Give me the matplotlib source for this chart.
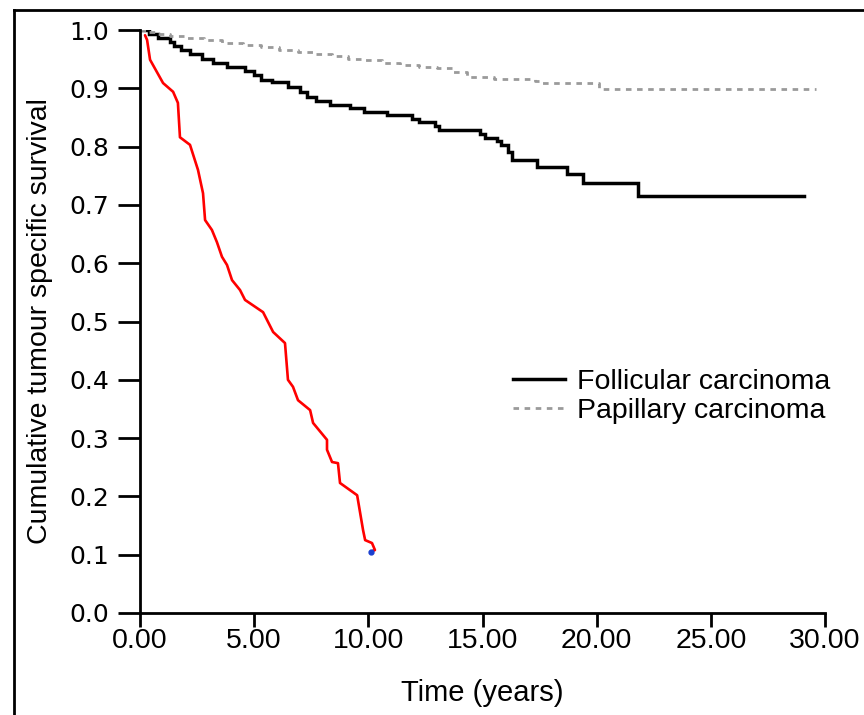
import matplotlib
matplotlib.use("Agg")
import matplotlib.pyplot as plt
from matplotlib.lines import Line2D

# Follicular carcinoma (Kaplan-Meier steps)
foll_t = [0, 0.4, 0.8, 1.3, 1.5, 1.8, 2.2, 2.7, 3.2, 3.8, 4.6, 5.0, 5.3, 5.8, 6.5,
          7.0, 7.3, 7.7, 8.3, 9.2, 9.8, 10.8, 11.9, 12.2, 12.9, 13.1, 14.9, 15.1,
          15.65, 15.8, 16.1, 16.3, 17.4, 18.7, 19.4, 21.8, 29.1]
foll_s = [1.0, 0.993, 0.986, 0.98, 0.972, 0.965, 0.958, 0.95, 0.944, 0.937, 0.93,
          0.923, 0.915, 0.91, 0.902, 0.893, 0.885, 0.878, 0.872, 0.866, 0.86, 0.854,
          0.848, 0.842, 0.835, 0.828, 0.821, 0.815, 0.809, 0.803, 0.79, 0.777,
          0.765, 0.753, 0.738, 0.716, 0.716]

# Papillary carcinoma
pap_t = [0, 0.4, 0.8, 1.3, 2.0, 2.8, 3.6, 4.5, 5.3, 6.1, 6.9, 7.6, 8.4, 9.1, 9.8,
         10.6, 11.4, 12.2, 13.0, 13.7, 14.3, 15.5, 17.3, 17.5, 20.1, 29.6]
pap_s = [1.0, 0.997, 0.993, 0.989, 0.986, 0.982, 0.978, 0.974, 0.97, 0.966, 0.962,
         0.958, 0.955, 0.951, 0.948, 0.944, 0.94, 0.937, 0.934, 0.928, 0.919,
         0.916, 0.913, 0.909, 0.899, 0.899]

# Hand-drawn red curve
red_t = [0.22, 0.31, 0.44, 1.01, 1.45, 1.66, 1.75, 2.19, 2.54, 2.76, 2.85, 3.15,
         3.37, 3.59, 3.81, 4.03, 4.38, 4.60, 5.39, 5.83, 6.35, 6.48, 6.70, 6.92,
         7.45, 7.58, 8.19, 8.19, 8.41, 8.67, 8.76, 9.51, 9.77, 9.86, 10.16, 10.29,
         10.16]
red_s = [0.991, 0.983, 0.949, 0.909, 0.894, 0.875, 0.816, 0.803, 0.760, 0.720,
         0.674, 0.657, 0.636, 0.611, 0.597, 0.571, 0.554, 0.537, 0.516, 0.482,
         0.463, 0.400, 0.388, 0.365, 0.348, 0.326, 0.297, 0.280, 0.259, 0.257,
         0.223, 0.202, 0.142, 0.125, 0.120, 0.108, 0.106]
dot_t = [10.12]
dot_s = [0.105]

x_ticks = [0, 5, 10, 15, 20, 25, 30]
x_labels = ["0.00", "5.00", "10.00", "15.00", "20.00", "25.00", "30.00"]
y_ticks = [0.0, 0.1, 0.2, 0.3, 0.4, 0.5, 0.6, 0.7, 0.8, 0.9, 1.0]
y_labels = ["0.0", "0.1", "0.2", "0.3", "0.4", "0.5", "0.6", "0.7", "0.8", "0.9", "1.0"]

plt.rcParams['font.family'] = ['Liberation Sans', 'DejaVu Sans']

fig = plt.figure(figsize=(8.64, 7.15), dpi=100)
ax = fig.add_axes([140/864, 1-613/715, 685/864, 583/715])

ax.plot(foll_t, foll_s, drawstyle='steps-post', color='black', lw=2.5,
        label='Follicular carcinoma', solid_joinstyle='miter')
ax.plot(pap_t, pap_s, drawstyle='steps-post', color='#9a9a9a', lw=2.0,
        dashes=(2, 2), label='Papillary carcinoma')
ax.plot(red_t, red_s, color='red', lw=1.9, solid_capstyle='round',
        solid_joinstyle='round')
ax.plot(dot_t, dot_s, 'o', color='#1a3fd0', ms=3.5)

ax.set_xlim(0, 30)
ax.set_ylim(0, 1.0)
ax.set_xticks(x_ticks)
ax.set_xticklabels(x_labels, fontsize=20.5)
ax.set_yticks(y_ticks)
ax.set_yticklabels(y_labels, fontsize=18, family=['DejaVu Sans'])
ax.tick_params(axis='x', length=10, width=2, pad=1)
ax.tick_params(axis='y', length=16, width=2, pad=6)
for s in ['top', 'right']:
    ax.spines[s].set_visible(False)
for s in ['left', 'bottom']:
    ax.spines[s].set_linewidth(2)
ax.set_xlabel('Time (years)', fontsize=21, labelpad=18)
ax.set_ylabel('Cumulative tumour specific survival', fontsize=20.5, labelpad=12)

leg = ax.legend(loc='upper left', bbox_to_anchor=(0.545, 0.418), frameon=False,
                fontsize=20.5, handlelength=1.8, handletextpad=0.45,
                labelspacing=0.1, borderpad=0, borderaxespad=0)

# figure frame (left and top edges)
fig.add_artist(Line2D([14/864, 14/864], [0, 1-10/715], color='black', lw=2,
                      transform=fig.transFigure))
fig.add_artist(Line2D([14/864, 1], [1-10/715, 1-10/715], color='black', lw=2,
                      transform=fig.transFigure))

fig.savefig('out.png', dpi=100, facecolor='white')
